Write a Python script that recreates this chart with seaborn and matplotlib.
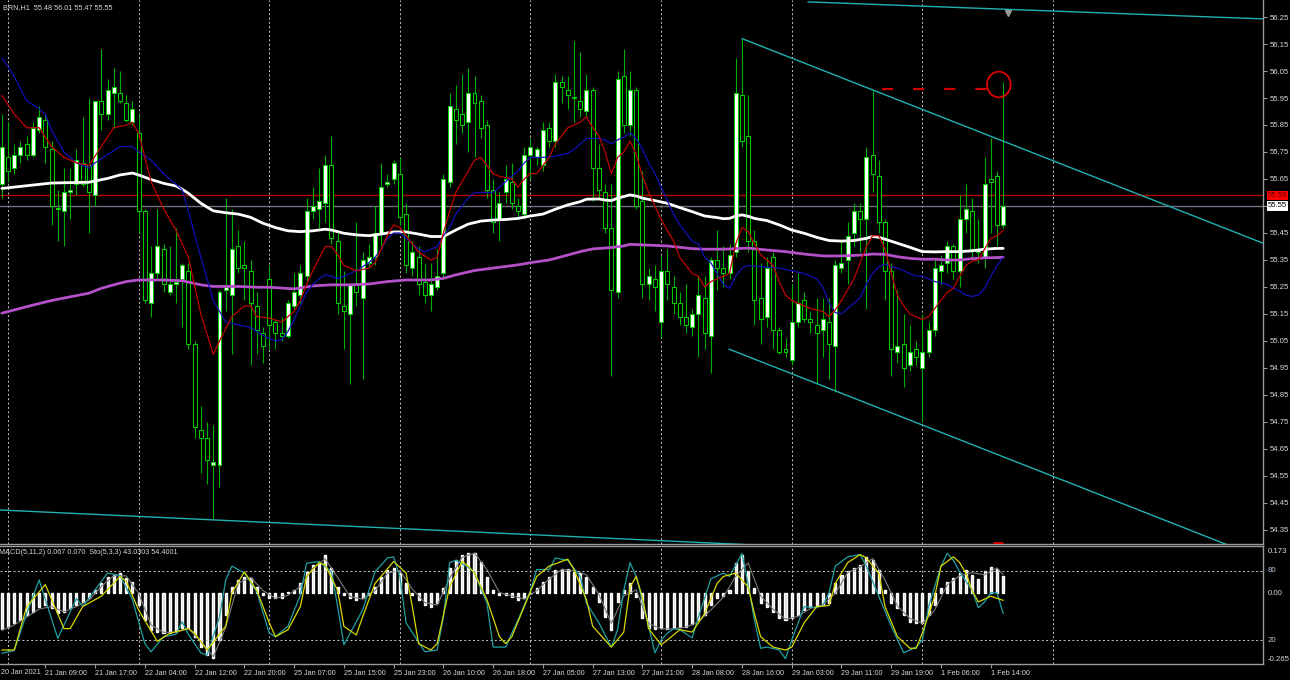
import numpy as np
import matplotlib
matplotlib.use('Agg')
import matplotlib.pyplot as plt
import seaborn as sns
from matplotlib.patches import Ellipse
from matplotlib import font_manager

# ---- data (BRN, H1) ----
opens = [55.63, 55.73, 55.69, 55.74, 55.78, 55.74, 55.83, 55.87, 55.76, 55.54,
         55.53, 55.60, 55.63, 55.71, 55.70, 55.59, 55.94, 55.89, 55.97, 55.97,
         55.93, 55.86, 55.82, 55.53, 55.19, 55.30, 55.39, 55.23, 55.26, 55.28,
         55.31, 55.04, 54.72, 54.69, 54.59, 54.59, 55.24, 55.22, 55.40, 55.33,
         55.31, 55.18, 55.08, 55.28, 55.12, 55.08, 55.07, 55.18, 55.22, 55.29,
         55.53, 55.54, 55.56, 55.70, 55.42, 55.18, 55.15, 55.26, 55.21, 55.34,
         55.36, 55.45, 55.63, 55.65, 55.67, 55.52, 55.32, 55.36, 55.27, 55.22,
         55.25, 55.30, 55.64, 55.91, 55.89, 55.86, 55.97, 55.94, 55.85, 55.61,
         55.50, 55.60, 55.64, 55.55, 55.52, 55.74, 55.73, 55.70, 55.84, 55.79,
         56.01, 55.98, 55.955, 55.94, 55.90, 55.98, 55.69, 55.60, 55.47, 55.23,
         56.03, 55.85, 55.98, 55.57, 55.26, 55.28, 55.12, 55.31, 55.25, 55.19,
         55.14, 55.10, 55.15, 55.21, 55.07, 55.35, 55.32, 55.30, 55.38, 55.96,
         55.81, 55.42, 55.21, 55.14, 55.36, 55.09, 55.02, 54.98, 55.12, 55.20,
         55.13, 55.11, 55.09, 55.12, 55.03, 55.32, 55.35, 55.45, 55.53, 55.50,
         55.74, 55.66, 55.49, 55.31, 55.01, 55.04, 54.96, 55.02, 54.95, 55.01,
         55.09, 55.31, 55.34, 55.40, 55.31, 55.50, 55.53, 55.38, 55.36, 55.65,
         55.66, 55.48]
highs = [55.89, 55.86, 55.78, 55.79, 55.81, 55.86, 55.92, 55.89, 55.79, 55.61,
         55.69, 55.69, 55.76, 55.88, 55.95, 55.94, 56.13, 56.02, 56.06, 56.05,
         55.96, 55.94, 55.89, 55.54, 55.40, 55.54, 55.41, 55.40, 55.47, 55.34,
         55.34, 55.05, 54.81, 54.75, 54.74, 55.24, 55.58, 55.54, 55.46, 55.42,
         55.35, 55.23, 55.10, 55.33, 55.13, 55.14, 55.20, 55.30, 55.33, 55.58,
         55.62, 55.69, 55.74, 55.81, 55.46, 55.31, 55.26, 55.49, 55.38, 55.41,
         55.55, 55.71, 55.67, 55.72, 55.73, 55.56, 55.42, 55.40, 55.34, 55.34,
         55.39, 55.67, 55.97, 56.00, 56.04, 56.06, 56.03, 55.96, 55.87, 55.65,
         55.60, 55.70, 55.71, 55.58, 55.77, 55.80, 55.77, 55.86, 55.86, 56.04,
         56.03, 56.03, 56.16, 56.12, 56.04, 55.99, 55.78, 55.63, 55.63, 56.05,
         56.13, 56.05, 55.99, 55.68, 55.32, 55.33, 55.37, 55.39, 55.29, 55.23,
         55.26, 55.17, 55.29, 55.29, 55.36, 55.46, 55.40, 55.41, 56.10, 56.17,
         55.96, 55.46, 55.34, 55.36, 55.38, 55.10, 55.06, 55.26, 55.30, 55.23,
         55.16, 55.21, 55.21, 55.21, 55.35, 55.42, 55.49, 55.56, 55.56, 55.77,
         55.98, 55.72, 55.50, 55.34, 55.24, 55.15, 55.11, 55.05, 55.15, 55.12,
         55.35, 55.37, 55.42, 55.41, 55.59, 55.63, 55.58, 55.50, 55.73, 55.80,
         55.68, 56.01]
lows = [55.58, 55.64, 55.67, 55.71, 55.72, 55.73, 55.82, 55.71, 55.48, 55.42,
        55.40, 55.50, 55.59, 55.62, 55.45, 55.55, 55.83, 55.87, 55.84, 55.93,
        55.86, 55.85, 55.45, 55.19, 55.14, 55.28, 55.23, 55.22, 55.19, 55.10,
        55.02, 54.69, 54.56, 54.52, 54.39, 54.51, 55.16, 55.00, 55.30, 55.20,
        54.96, 55.00, 54.97, 55.02, 55.02, 55.05, 55.06, 55.17, 55.19, 55.27,
        55.50, 55.47, 55.49, 55.41, 55.15, 55.02, 54.89, 55.18, 54.91, 55.32,
        55.33, 55.40, 55.62, 55.63, 55.48, 55.30, 55.29, 55.22, 55.19, 55.16,
        55.24, 55.28, 55.62, 55.78, 55.82, 55.75, 55.73, 55.80, 55.58, 55.45,
        55.42, 55.56, 55.54, 55.50, 55.50, 55.65, 55.70, 55.68, 55.77, 55.77,
        55.93, 55.91, 55.86, 55.88, 55.88, 55.57, 55.58, 55.45, 54.92, 55.21,
        55.82, 55.81, 55.54, 55.21, 55.20, 55.16, 55.06, 55.20, 55.15, 55.11,
        55.08, 55.07, 54.99, 55.02, 54.93, 55.24, 55.25, 55.28, 55.36, 55.77,
        55.38, 55.11, 55.04, 55.10, 55.02, 55.00, 54.99, 54.96, 55.10, 55.12,
        55.08, 54.89, 54.99, 54.91, 54.86, 55.30, 55.26, 55.40, 55.38, 55.17,
        55.60, 55.45, 55.20, 54.92, 54.97, 54.88, 54.94, 54.96, 54.75, 54.99,
        55.07, 55.26, 55.30, 55.28, 55.25, 55.45, 55.35, 55.34, 55.32, 55.45,
        55.40, 55.47]
closes = [55.77, 55.68, 55.74, 55.77, 55.74, 55.84, 55.88, 55.77, 55.55, 55.54,
          55.60, 55.61, 55.72, 55.63, 55.60, 55.94, 55.89, 55.98, 55.99, 55.94,
          55.87, 55.91, 55.53, 55.20, 55.30, 55.40, 55.26, 55.26, 55.27, 55.33,
          55.04, 54.73, 54.69, 54.61, 54.60, 55.23, 55.25, 55.39, 55.32, 55.32,
          55.19, 55.09, 55.03, 55.11, 55.08, 55.07, 55.19, 55.23, 55.30, 55.53,
          55.55, 55.57, 55.70, 55.43, 55.19, 55.16, 55.26, 55.23, 55.35, 55.36,
          55.45, 55.62, 55.64, 55.71, 55.51, 55.33, 55.38, 55.26, 55.22, 55.26,
          55.29, 55.65, 55.92, 55.87, 55.85, 55.97, 55.93, 55.84, 55.61, 55.49,
          55.56, 55.65, 55.56, 55.53, 55.74, 55.77, 55.76, 55.83, 55.79, 56.01,
          55.99, 55.96, 55.95, 55.91, 55.98, 55.69, 55.61, 55.47, 55.24, 56.02,
          55.85, 55.98, 55.55, 55.26, 55.29, 55.25, 55.31, 55.26, 55.19, 55.14,
          55.11, 55.15, 55.22, 55.08, 55.35, 55.32, 55.30, 55.37, 55.97, 55.79,
          55.42, 55.20, 55.13, 55.32, 55.09, 55.01, 55.01, 55.12, 55.19, 55.13,
          55.12, 55.08, 55.13, 55.04, 55.33, 55.34, 55.44, 55.53, 55.50, 55.73,
          55.67, 55.49, 55.31, 55.02, 55.03, 54.95, 55.01, 54.99, 55.01, 55.09,
          55.32, 55.33, 55.40, 55.31, 55.50, 55.54, 55.39, 55.39, 55.63, 55.64,
          55.48, 55.55]

# moving averages (bar index, price)
ma_red_x = [0, 2, 4, 6, 8, 10, 12, 14, 16, 18, 20, 21, 22, 24, 26, 28, 30, 32, 34, 35,
            37, 39, 40, 41, 43, 45, 47, 48, 49, 50, 52, 53, 54, 55, 57, 59, 60, 61, 62, 63,
            64, 65, 66, 67, 69, 70, 71, 72, 73, 74, 75, 76, 77, 78, 79, 80, 82, 83, 84, 85,
            86, 87, 88, 89, 90, 91, 92, 93, 94, 95, 96, 97, 98, 99, 100, 101, 102, 103, 104, 105,
            106, 107, 108, 109, 110, 111, 112, 113, 114, 115, 116, 117, 118, 119, 120, 121, 122, 123, 124, 125,
            126, 127, 128, 129, 130, 131, 132, 133, 134, 135, 136, 137, 138, 139, 140, 141, 142, 143, 144, 145,
            146, 147, 148, 149, 150, 151, 152, 153, 154, 155, 156, 157, 158, 159, 160, 161]
ma_red_y = [55.96, 55.89, 55.84, 55.84, 55.77, 55.73, 55.71, 55.70, 55.77, 55.84, 55.85, 55.86, 55.82, 55.64, 55.54, 55.46, 55.36, 55.15, 55.00, 55.05,
            55.14, 55.18, 55.18, 55.14, 55.135, 55.12, 55.16, 55.20, 55.26, 55.31, 55.40, 55.40, 55.37, 55.33, 55.31, 55.32, 55.34, 55.39, 55.44, 55.48,
            55.47, 55.44, 55.41, 55.38, 55.35, 55.36, 55.45, 55.53, 55.60, 55.64, 55.68, 55.72, 55.73, 55.70, 55.67, 55.66, 55.65, 55.62, 55.65, 55.67,
            55.67, 55.70, 55.73, 55.78, 55.81, 55.84, 55.85, 55.86, 55.88, 55.84, 55.81, 55.75, 55.67, 55.73, 55.75, 55.79, 55.74, 55.66, 55.60, 55.55,
            55.50, 55.46, 55.42, 55.36, 55.33, 55.30, 55.29, 55.25, 55.27, 55.28, 55.29, 55.30, 55.41, 55.47, 55.455, 55.41, 55.37, 55.35, 55.33, 55.27,
            55.22, 55.20, 55.19, 55.18, 55.17, 55.165, 55.16, 55.14, 55.165, 55.20, 55.24, 55.28, 55.34, 55.40, 55.44, 55.44, 55.39, 55.30, 55.22, 55.18,
            55.15, 55.14, 55.13, 55.14, 55.17, 55.20, 55.23, 55.245, 55.29, 55.33, 55.345, 55.35, 55.39, 55.43, 55.44, 55.46]
ma_blue_x = [0, 2, 4, 6, 7, 8, 10, 12, 14, 15, 17, 19, 21, 22, 24, 26, 28, 29, 30, 32,
             34, 36, 38, 40, 42, 44, 45, 46, 47, 48, 49, 50, 51, 52, 53, 54, 55, 56, 57, 58,
             59, 60, 61, 62, 63, 64, 65, 66, 67, 68, 69, 70, 71, 72, 73, 74, 75, 76, 77, 78,
             79, 80, 81, 82, 83, 84, 85, 87, 89, 91, 92, 93, 94, 96, 97, 98, 99, 100, 101, 102,
             103, 104, 105, 106, 107, 108, 109, 110, 111, 112, 113, 114, 115, 116, 117, 118, 119, 120, 122, 125,
             127, 129, 131, 132, 133, 134, 135, 136, 137, 138, 139, 140, 141, 142, 143, 144, 145, 146, 147, 148,
             149, 150, 151, 152, 153, 154, 155, 156, 157, 158, 159, 160, 161]
ma_blue_y = [56.10, 56.03, 55.94, 55.91, 55.89, 55.83, 55.75, 55.71, 55.69, 55.71, 55.74, 55.77, 55.77, 55.75, 55.72, 55.67, 55.63, 55.61, 55.53, 55.36,
             55.20, 55.12, 55.11, 55.10, 55.07, 55.05, 55.055, 55.085, 55.13, 55.18, 55.23, 55.26, 55.28, 55.295, 55.29, 55.28, 55.29, 55.30, 55.31, 55.325,
             55.34, 55.36, 55.39, 55.43, 55.45, 55.45, 55.43, 55.41, 55.39, 55.38, 55.39, 55.40, 55.44, 55.47, 55.52, 55.55, 55.58, 55.60, 55.60, 55.60,
             55.60, 55.62, 55.64, 55.66, 55.68, 55.71, 55.73, 55.73, 55.735, 55.745, 55.76, 55.78, 55.80, 55.80, 55.795, 55.78, 55.795, 55.805, 55.82, 55.80,
             55.76, 55.71, 55.67, 55.62, 55.57, 55.52, 55.48, 55.45, 55.42, 55.41, 55.36, 55.34, 55.30, 55.26, 55.245, 55.29, 55.32, 55.33, 55.325, 55.32,
             55.31, 55.30, 55.28, 55.25, 55.19, 55.155, 55.15, 55.17, 55.19, 55.21, 55.26, 55.30, 55.325, 55.335, 55.325, 55.32, 55.31, 55.30, 55.29, 55.29,
             55.28, 55.27, 55.265, 55.26, 55.245, 55.235, 55.22, 55.215, 55.22, 55.245, 55.29, 55.33, 55.36]
ma_white_x = [0, 4, 8, 14, 17, 19, 21, 22, 24, 26, 28, 29, 30, 32, 34, 36, 38, 40, 42, 44,
              46, 48, 50, 52, 53, 55, 57, 59, 61, 63, 65, 67, 69, 71, 72, 73, 75, 77, 79, 81,
              83, 85, 87, 89, 91, 93, 94, 96, 97, 98, 99, 100, 101, 102, 103, 105, 107, 109, 111, 113,
              115, 116, 117, 118, 119, 120, 121, 123, 125, 127, 129, 131, 133, 135, 137, 139, 140, 141, 142, 144,
              146, 148, 150, 152, 154, 156, 158, 160, 161]
ma_white_y = [55.615, 55.625, 55.635, 55.638, 55.652, 55.665, 55.672, 55.665, 55.648, 55.634, 55.624, 55.612, 55.597, 55.56, 55.532, 55.525, 55.52, 55.508, 55.486, 55.47,
              55.458, 55.455, 55.458, 55.464, 55.461, 55.449, 55.443, 55.44, 55.446, 55.454, 55.454, 55.446, 55.437, 55.437, 55.449, 55.461, 55.483, 55.494, 55.498, 55.50,
              55.504, 55.513, 55.52, 55.538, 55.554, 55.566, 55.575, 55.576, 55.572, 55.57, 55.579, 55.585, 55.591, 55.587, 55.579, 55.57, 55.56, 55.544, 55.529, 55.513,
              55.507, 55.503, 55.504, 55.513, 55.517, 55.512, 55.504, 55.496, 55.48, 55.461, 55.449, 55.434, 55.422, 55.42, 55.422, 55.43, 55.437, 55.434, 55.427, 55.412,
              55.397, 55.381, 55.38, 55.381, 55.381, 55.384, 55.39, 55.393, 55.393]
ma_violet_x = [0, 4, 8, 12, 14, 16, 18, 20, 22, 26, 29, 32, 34, 38, 41, 43, 47, 50, 53, 56,
               59, 62, 65, 69, 71, 73, 76, 79, 81, 83, 85, 88, 90, 93, 95, 98, 100, 101, 103, 105,
               107, 109, 111, 113, 116, 118, 120, 123, 126, 129, 132, 135, 138, 140, 142, 144, 146, 148, 150, 152,
               154, 156, 158, 160, 161]
ma_violet_y = [55.153, 55.177, 55.20, 55.218, 55.227, 55.245, 55.258, 55.27, 55.276, 55.276, 55.273, 55.258, 55.252, 55.252, 55.249, 55.249, 55.243, 55.254, 55.258, 55.258,
               55.261, 55.27, 55.276, 55.276, 55.282, 55.295, 55.311, 55.32, 55.326, 55.332, 55.34, 55.35, 55.362, 55.381, 55.391, 55.396, 55.402, 55.408, 55.406, 55.404,
               55.402, 55.397, 55.392, 55.39, 55.39, 55.392, 55.394, 55.387, 55.381, 55.372, 55.365, 55.365, 55.368, 55.372, 55.371, 55.362, 55.356, 55.353, 55.353, 55.35,
               55.35, 55.355, 55.358, 55.359, 55.36]

# MACD(5,11,2) histogram, one value per bar
macd_hist = [-0.136, -0.129, -0.114, -0.101, -0.082, -0.069, -0.051, -0.044, -0.057, -0.076,
             -0.069, -0.057, -0.044, -0.032, -0.019, 0.013, 0.038, 0.063, 0.069, 0.076,
             0.057, 0.044, -0.044, -0.101, -0.139, -0.145, -0.152, -0.152, -0.145, -0.133,
             -0.133, -0.164, -0.202, -0.234, -0.246, -0.177, -0.082, 0.025, 0.051, 0.063,
             0.057, 0.025, -0.006, -0.019, -0.019, -0.019, 0.003, 0.013, 0.038, 0.082,
             0.107, 0.114, 0.145, 0.095, 0.025, -0.006, -0.019, -0.025, -0.019, -0.006,
             0.025, 0.063, 0.088, 0.095, 0.076, 0.038, -0.006, -0.025, -0.044, -0.051,
             -0.038, 0.019, 0.095, 0.126, 0.145, 0.152, 0.152, 0.120, 0.063, 0.013,
             -0.006, -0.006, -0.013, -0.025, -0.019, 0.002, 0.019, 0.044, 0.063, 0.088,
             0.091, 0.091, 0.082, 0.076, 0.063, 0.025, -0.032, -0.088, -0.139, -0.032,
             0.013, 0.038, -0.013, -0.095, -0.133, -0.136, -0.133, -0.136, -0.133, -0.129,
             -0.126, -0.116, -0.101, -0.082, -0.044, -0.019, -0.010, 0.013, 0.116, 0.145,
             0.086, 0.019, -0.038, -0.051, -0.069, -0.095, -0.101, -0.095, -0.082, -0.063,
             -0.051, -0.044, -0.044, -0.038, 0.038, 0.069, 0.086, 0.095, 0.107, 0.139,
             0.126, 0.088, 0.013, -0.038, -0.057, -0.082, -0.107, -0.114, -0.114, -0.082,
             -0.044, 0.019, 0.044, 0.057, 0.076, 0.088, 0.069, 0.053, 0.086, 0.101,
             0.091, 0.067]
macd_sig_x = list(range(0, 161, 2)) + [161]
macd_sig_y = [-0.14, -0.12, -0.09, -0.06, -0.05, -0.07, -0.05, -0.026, 0.026, 0.066,
              0.066, 0.0, -0.12, -0.148, -0.148, -0.133, -0.183, -0.24, -0.13, 0.038,
              0.06, 0.01, -0.019, -0.008, 0.026, 0.095, 0.13, 0.06, -0.013, -0.022,
              0.01, 0.076, 0.086, 0.016, -0.035, -0.045, 0.057, 0.136, 0.152, 0.09,
              0.003, -0.01, -0.022, 0.01, 0.054, 0.09, 0.086, 0.07, -0.004, -0.114,
              -0.01, 0.013, -0.114, -0.135, -0.135, -0.128, -0.108, -0.063, -0.015, 0.065,
              0.115, -0.01, -0.06, -0.098, -0.088, -0.057, -0.044, 0.0, 0.078, 0.1,
              0.132, 0.05, -0.048, -0.095, -0.114, -0.063, 0.032, 0.066, 0.078, 0.07,
              0.096, 0.07]

# Stochastic(5,3,3)
sto_main_x = [0, 2, 4, 6, 9, 12, 13, 17, 19, 21, 23, 24, 26, 28, 29, 30, 32, 33, 35, 36,
              37, 39, 41, 43, 44, 46, 48, 49, 51, 53, 54, 55, 56, 58, 60, 62, 63, 64, 65, 68,
              70, 71, 72, 73, 75, 76, 78, 79, 81, 82, 83, 85, 86, 88, 89, 91, 93, 94, 96, 98,
              99, 100, 101, 102, 103, 104, 105, 106, 107, 108, 109, 111, 112, 114, 116, 117, 119, 120, 121, 122,
              123, 125, 126, 127, 129, 131, 132, 133, 134, 136, 138, 139, 141, 143, 145, 147, 148, 149, 151, 152,
              153, 154, 156, 157, 158, 159, 160, 161]
sto_main_y = [8.7, 11, 43, 72, 21.6, 56, 49, 78, 76, 55, 17, 10, 23, 25, 36, 25, 9, 7, 40, 72,
              84, 78, 62, 26, 23, 32, 59, 86.5, 88, 79, 49, 16, 26, 46, 79, 91, 92, 75, 35, 10,
              11.5, 40, 87, 89, 83, 78, 52, 14, 14, 26, 37.5, 63, 81, 81, 91, 89, 75, 52, 35, 14,
              29, 63, 87, 75, 54, 32, 9, 20, 26, 30, 29, 22, 40, 73, 78, 75, 95, 68, 37.5, 13,
              14, 11.5, 4, 20, 49, 48, 50, 61, 84, 92, 94, 84, 58, 32, 9, 14, 20, 49, 84, 95,
              89, 79, 63, 48, 53, 61, 61, 43.03]
sto_sig_x = [0, 2, 4, 7, 10, 11, 13, 16, 19, 20, 22, 25, 27, 30, 31, 33, 36, 37, 39, 41,
             43, 44, 46, 48, 49, 51, 52, 54, 55, 57, 58, 60, 63, 65, 66, 67, 69, 70, 72, 74,
             75, 76, 78, 80, 81, 82, 84, 86, 88, 91, 92, 94, 95, 98, 100, 101, 102, 103, 104, 106,
             107, 109, 111, 113, 115, 116, 118, 120, 121, 122, 124, 126, 127, 129, 131, 133, 134, 136, 138, 139,
             141, 142, 144, 146, 147, 148, 150, 151, 153, 154, 155, 156, 157, 159, 161]
sto_sig_y = [11.5, 11.5, 49, 68, 30, 30, 49, 58, 75, 71, 46, 19, 26, 30, 26, 11.5, 32, 61, 79, 63,
             35, 23, 29, 49, 75, 87, 85, 63, 32, 24.5, 40, 69, 88, 78, 49, 17, 11.5, 17, 66, 88,
             84, 78, 55, 23, 17, 23, 49, 75, 84, 90, 81, 55, 32, 14, 27, 66, 75, 57, 30, 16,
             20, 29, 27, 43, 69, 75, 78, 66, 43, 23, 14, 11.5, 14, 35, 49, 50, 69, 87, 94, 91,
             78, 49, 23, 13, 13, 26, 58, 84, 92, 87, 78, 63, 53, 58, 54.4]

# drawn objects: (bar index, price) anchors
trend_top = ([129.6, 202.8], [56.306, 56.243])
trend_bottom = ([-0.3, 125.0], [54.424, 54.290])
channel_up = ([119.0, 202.8], [56.170, 55.412])
channel_low = ([116.9, 202.8], [55.020, 54.243])
dash_mark = ([141.5, 160.2], [55.983, 55.983])
circle_mark = (160.3, 56.0)
red_stub = ([159.4, 161.0], [54.303, 54.303])
bid_price = 55.59
last_price = 55.55

price_ticks = [54.35, 54.45, 54.55, 54.65, 54.75, 54.85, 54.95, 55.05, 55.15, 55.25,
               55.35, 55.45, 55.55, 55.65, 55.75, 55.85, 55.95, 56.05, 56.15, 56.25]
day_starts = [1, 22, 43, 64, 85, 106, 127, 148, 169]
time_idx = list(range(7, 160, 8))
time_labels = ['21 Jan 09:00', '21 Jan 17:00', '22 Jan 04:00', '22 Jan 12:00', '22 Jan 20:00',
               '25 Jan 07:00', '25 Jan 15:00', '25 Jan 23:00', '26 Jan 10:00', '26 Jan 18:00',
               '27 Jan 05:00', '27 Jan 13:00', '27 Jan 21:00', '28 Jan 08:00', '28 Jan 16:00',
               '29 Jan 03:00', '29 Jan 11:00', '29 Jan 19:00', '1 Feb 06:00', '1 Feb 14:00']

# ---- style ----
sns.set_theme(style='dark', rc={'axes.facecolor': 'black', 'figure.facecolor': 'black'})
installed = {f.name for f in font_manager.fontManager.ttflist}
narrow = 'Liberation Sans Narrow' if 'Liberation Sans Narrow' in installed else 'Liberation Sans'
plt.rcParams['font.family'] = [narrow, 'DejaVu Sans']
fs = 6.3 if narrow == 'Liberation Sans Narrow' else 5.2
fs_axis = fs + 0.4
txt_col = '#d8d8d8'
grid_col = '#c8c8c8'
frame_col = '#9a9a9a'
W, H = 1290, 680

fig = plt.figure(figsize=(W / 100, H / 100), dpi=100)
ax = fig.add_axes([0, 1 - 544 / H, 1263 / W, 544 / H])
ax_ind = fig.add_axes([0, 1 - 664 / H, 1263 / W, 118 / H])
xlim = (-0.289, 202.77)

# ---- main panel ----
n = len(opens)
idx = np.arange(n)
o = np.array(opens); c = np.array(closes)
ax.vlines(idx, lows, highs, color='#00b000', lw=0.8, zorder=2)
bull = c >= o
body_h = np.maximum(np.abs(c - o), 0.003)
ax.bar(idx, body_h, bottom=np.minimum(o, c), width=0.64,
       color=np.where(bull, 'white', 'black'), edgecolor='#00d000', linewidth=0.75, zorder=3)

for xs, ys, col, lw in [(ma_violet_x, ma_violet_y, '#b450c8', 2.0),
                        (ma_white_x, ma_white_y, '#ffffff', 2.0),
                        (ma_blue_x, ma_blue_y, '#1010b8', 0.9),
                        (ma_red_x, ma_red_y, '#c00000', 0.9)]:
    sns.lineplot(x=xs, y=ys, ax=ax, color=col, linewidth=lw, legend=False,
                 estimator=None, sort=False, zorder=4)

ax.axhline(bid_price, color='#b00000', lw=1.0, zorder=1)
ax.axhline(last_price, color='#6e6e7e', lw=1.0, zorder=1)
for d in day_starts:
    ax.axvline(d, color=grid_col, lw=0.7, ls=(0, (2, 2.5)), zorder=0)
    ax_ind.axvline(d, color=grid_col, lw=0.7, ls=(0, (2, 2.5)), zorder=0)

for tl in (trend_top, trend_bottom, channel_up, channel_low):
    ax.plot(tl[0], tl[1], color='#20b2b0', lw=1.0, zorder=5)
ax.plot(dash_mark[0], dash_mark[1], color='#d00000', lw=1.6, ls=(0, (5, 9)), zorder=6)
ax.add_patch(Ellipse(circle_mark, 3.8, 0.095, fill=False, ec='#e00000', lw=1.3, zorder=6))
ax.plot(red_stub[0], red_stub[1], color='#e00000', lw=2.0, zorder=6, solid_capstyle='butt')
ax.plot([161.8], [56.266], marker='v', color='#9a9a9a', ms=4, zorder=6)

ax.set_xlim(*xlim)
ax.set_ylim(54.298, 56.313)
ax.yaxis.tick_right()
ax.set_yticks(price_ticks)
ax.set_yticklabels([f'{p:.2f}' for p in price_ticks])
ax.tick_params(axis='y', length=3, width=0.8, color=frame_col, labelcolor=txt_col,
               labelsize=fs_axis, pad=2, right=True, left=False)
ax.set_xticks([])
for s in ('left', 'top'):
    ax.spines[s].set_visible(False)
for s in ('right', 'bottom'):
    ax.spines[s].set_color(frame_col)
    ax.spines[s].set_linewidth(1.0)
ax.set_xlabel(''); ax.set_ylabel('')

yt = ax.get_yaxis_transform()
ax.text(1.004, bid_price, f'{bid_price:.2f}', transform=yt, fontsize=fs_axis, color='#5a0000',
        va='center', ha='left', clip_on=False,
        bbox=dict(boxstyle='square,pad=0.15', fc='#ff0000', ec='none'))
ax.text(1.004, last_price, f'{last_price:.2f}', transform=yt, fontsize=fs_axis, color='black',
        va='center', ha='left', clip_on=False,
        bbox=dict(boxstyle='square,pad=0.15', fc='white', ec='none'))

fig.text(3 / W, 1 - 8 / H, 'BRN,H1  55.48 56.01 55.47 55.55', fontsize=fs,
         color=txt_col, va='center', ha='left')

# ---- indicator panel ----
ax_ind.bar(idx, macd_hist, width=0.33, color='#d8d8d8', zorder=2)
sns.lineplot(x=macd_sig_x, y=macd_sig_y, ax=ax_ind, color='#7c7c7c', linewidth=0.8,
             legend=False, estimator=None, sort=False, zorder=3)
ax_ind.set_xlim(*xlim)
ax_ind.set_ylim(-0.2677, 0.179)

ax_sto = ax_ind.twinx()
ax_sto.set_ylim(-0.61, 101.39)
ax_sto.axhline(80, color=grid_col, lw=0.7, ls=(0, (2, 2.5)))
ax_sto.axhline(20, color=grid_col, lw=0.7, ls=(0, (2, 2.5)))
sns.lineplot(x=sto_main_x, y=sto_main_y, ax=ax_sto, color='#1fa0a2', linewidth=0.9,
             legend=False, estimator=None, sort=False)
sns.lineplot(x=sto_sig_x, y=sto_sig_y, ax=ax_sto, color='#d8d800', linewidth=0.9,
             legend=False, estimator=None, sort=False)
ax_sto.set_xlim(*xlim)
ax_sto.set_yticks([])
ax_sto.set_ylabel('')
for s in ax_sto.spines.values():
    s.set_visible(False)

ax_ind.set_yticks([])
ax_ind.set_ylabel('')
ax_ind.set_xticks(time_idx)
ax_ind.set_xticklabels(time_labels, ha='left')
ax_ind.tick_params(axis='x', length=3, width=0.8, color=frame_col, labelcolor=txt_col,
                   labelsize=fs, pad=1, bottom=True)
ax_ind.spines['left'].set_visible(False)
for s in ('right', 'bottom', 'top'):
    ax_ind.spines[s].set_color(frame_col)
    ax_ind.spines[s].set_linewidth(1.0)

it = ax_ind.get_yaxis_transform()
st = ax_sto.get_yaxis_transform()
ax_ind.text(1.004, 0.173, '0.173', transform=it, fontsize=fs_axis, color=txt_col, va='top', clip_on=False)
ax_ind.text(1.004, 0.0, '0.00', transform=it, fontsize=fs_axis, color=txt_col, va='center', clip_on=False)
ax_ind.text(1.004, -0.265, '-0.265', transform=it, fontsize=fs_axis, color=txt_col, va='bottom', clip_on=False)
ax_sto.text(1.004, 80, '80', transform=st, fontsize=fs_axis, color='#b8cce4', va='center', clip_on=False)
ax_sto.text(1.004, 20, '20', transform=st, fontsize=fs_axis, color='#b8cce4', va='center', clip_on=False)

fig.text(-1 / W, 1 - 552 / H, 'MACD(5,11,2) 0.067 0.070  Sto(5,3,3) 43.0303 54.4001',
         fontsize=fs, color=txt_col, va='center', ha='left')
fig.text(1 / W, 1 - 672 / H, '20 Jan 2021', fontsize=fs, color=txt_col, va='center', ha='left')

fig.savefig('out.png', dpi=100, facecolor='black')
